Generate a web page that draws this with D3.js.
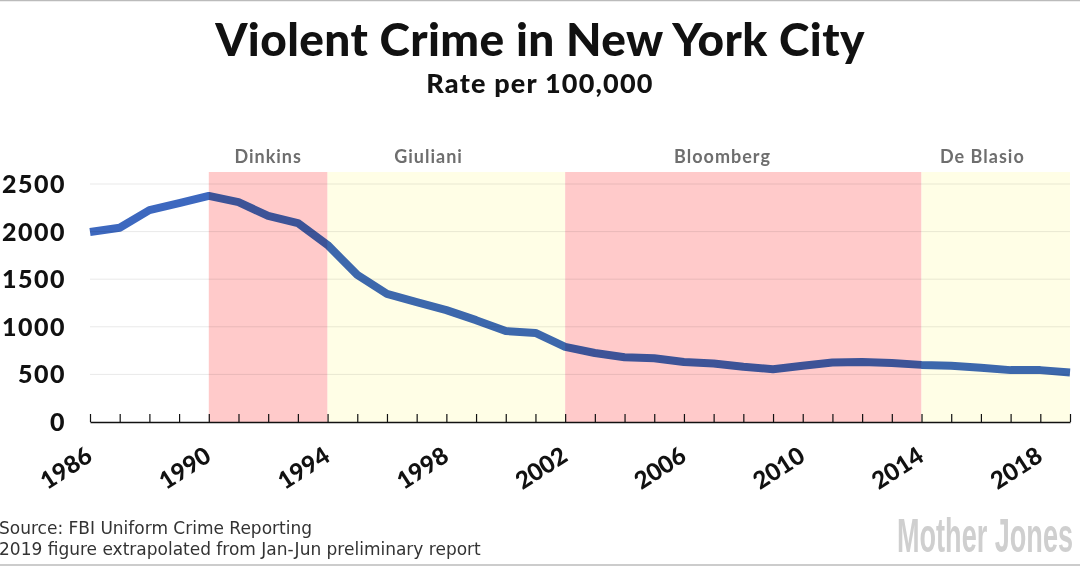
<!DOCTYPE html>
<html>
<head>
<meta charset="utf-8">
<script src="https://cdn.jsdelivr.net/npm/d3@7"></script>
<style>
  html, body { margin: 0; padding: 0; background: #fff; }
  svg { display: block; }
</style>
</head>
<body>
<div id="chart"></div>
<script>
// Data
const years = d3.range(1986, 2020);
const rates = [1995, 2040, 2225, 2300, 2375, 2310, 2165, 2090, 1860, 1545,
  1345, 1260, 1175, 1070, 955, 935, 790, 725, 680, 670,
  630, 615, 580, 555, 590, 625, 630, 620, 600, 590,
  570, 545, 545, 520];

const mayors = ["Dinkins", "Giuliani", "Bloomberg", "De Blasio"];
const termStart = [1990, 1994, 2002, 2014];
const termEnd = [1994, 2002, 2014, 2019];
const mayorLabelAt = [1992, 1997.4, 2007.3, 2016.05];

const yTicks = [0, 500, 1000, 1500, 2000, 2500];
const xLabels = [1986, 1990, 1994, 1998, 2002, 2006, 2010, 2014, 2018];

const width = 1080;
const height = 566;
const margin = { top: 172, right: 10, bottom: 144, left: 90 };

const svg = d3
  .select("#chart")
  .append("svg")
  .attr("width", width)
  .attr("height", height);

const x = d3
  .scaleLinear()
  .domain([1986, 2019])
  .range([margin.left, width - margin.right]);

const y = d3
  .scaleLinear()
  .domain([0, 2500])
  .range([height - margin.bottom, 184]);

const data = years.map((yr, i) => ({ year: yr, rate: rates[i] }));
const terms = mayors.map((m, i) => ({
  name: m, start: termStart[i], end: termEnd[i], label: mayorLabelAt[i]
}));

// Frame lines top and bottom
svg.append("line")
  .attr("x1", 0).attr("x2", width).attr("y1", 0.5).attr("y2", 0.5)
  .attr("stroke", "#bbb").attr("stroke-width", 1.5);
svg.append("line")
  .attr("x1", 0).attr("x2", width).attr("y1", height - 1).attr("y2", height - 1)
  .attr("stroke", "#bbb").attr("stroke-width", 1.5);

// Title
svg.append("text")
  .attr("x", width / 2)
  .attr("y", 56)
  .attr("text-anchor", "middle")
  .attr("font-family", "Lato, sans-serif")
  .attr("font-weight", 900)
  .attr("font-size", "46px")
  .attr("letter-spacing", "0.4px")
  .attr("fill", "#111")
  .text("Violent Crime in New York City");

svg.append("text")
  .attr("x", width / 2)
  .attr("y", 93)
  .attr("text-anchor", "middle")
  .attr("font-family", "Lato, sans-serif")
  .attr("font-weight", 900)
  .attr("font-size", "27px")
  .attr("letter-spacing", "1.2px")
  .attr("fill", "#111")
  .text("Rate per 100,000");

// Mayor shading
svg.append("g")
  .selectAll("rect")
  .data(terms)
  .enter()
  .append("rect")
  .attr("x", (d) => x(d.start))
  .attr("y", margin.top)
  .attr("width", (d) => x(d.end) - x(d.start))
  .attr("height", y(0) - margin.top)
  .attr("fill", (d, i) => (i % 2 === 0 ? "#ffcaca" : "#fffee6"));

svg.append("g")
  .selectAll("text")
  .data(terms)
  .enter()
  .append("text")
  .attr("x", (d) => x(d.label))
  .attr("y", 163)
  .attr("text-anchor", "middle")
  .attr("font-family", "Lato, sans-serif")
  .attr("font-weight", 700)
  .attr("font-size", "18px")
  .attr("letter-spacing", "1px")
  .attr("fill", "#6e6e6e")
  .text((d) => d.name);

// Gridlines
svg.append("g")
  .selectAll("line")
  .data(yTicks.filter((t) => t > 0))
  .enter()
  .append("line")
  .attr("x1", x(1986))
  .attr("x2", x(2019))
  .attr("y1", (d) => y(d))
  .attr("y2", (d) => y(d))
  .attr("stroke", "rgba(0,0,0,0.09)")
  .attr("stroke-width", 1);

// Y axis labels
svg.append("g")
  .selectAll("text")
  .data(yTicks)
  .enter()
  .append("text")
  .attr("x", 66)
  .attr("y", (d) => y(d))
  .attr("dy", "0.36em")
  .attr("text-anchor", "end")
  .attr("font-family", "Lato, sans-serif")
  .attr("font-weight", 900)
  .attr("font-size", "25px")
  .attr("letter-spacing", "1.5px")
  .attr("fill", "#111")
  .text((d) => d);

// Line
const line = d3
  .line()
  .x((d) => x(d.year))
  .y((d) => y(d.rate));

svg.append("path")
  .datum(data)
  .attr("d", line)
  .attr("fill", "none")
  .attr("stroke", "#3d68bf")
  .attr("stroke-width", 8)
  .attr("stroke-linejoin", "round")
  .style("mix-blend-mode", "multiply");

// X axis
const xAxis = svg
  .append("g")
  .attr("transform", `translate(0,${y(0)})`)
  .call(
    d3.axisBottom(x)
      .tickValues(years)
      .tickSizeInner(-8)
      .tickSizeOuter(0)
      .tickFormat("")
  );
xAxis.select(".domain").attr("stroke", "#111").attr("stroke-width", 1.5);
xAxis.selectAll(".tick line").attr("stroke", "#111").attr("stroke-width", 1.2);

svg.append("g")
  .selectAll("text")
  .data(xLabels)
  .enter()
  .append("text")
  .attr("transform", (d) => `translate(${x(d) + 4},${y(0) + 38}) rotate(-33)`)
  .attr("text-anchor", "end")
  .attr("font-family", "Lato, sans-serif")
  .attr("font-weight", 900)
  .attr("font-size", "24px")
  .attr("fill", "#111")
  .text((d) => d);

// Footer
const foot = svg.append("g")
  .attr("font-family", "'DejaVu Sans', Verdana, sans-serif")
  .attr("font-size", "17px")
  .attr("fill", "#333");
foot.append("text").attr("x", -1).attr("y", 534).text("Source: FBI Uniform Crime Reporting");
foot.append("text").attr("x", -1).attr("y", 555).text("2019 figure extrapolated from Jan-Jun preliminary report");

// Logo
svg.append("text")
  .attr("transform", "translate(897,552) scale(1,1.85)")
  .attr("font-family", "'Liberation Sans Narrow', 'Liberation Sans', sans-serif")
  .attr("font-weight", 700)
  .attr("font-size", "26px")
  .attr("textLength", 176)
  .attr("lengthAdjust", "spacingAndGlyphs")
  .attr("fill", "#cfcfcf")
  .text("Mother Jones");
</script>
</body>
</html>
